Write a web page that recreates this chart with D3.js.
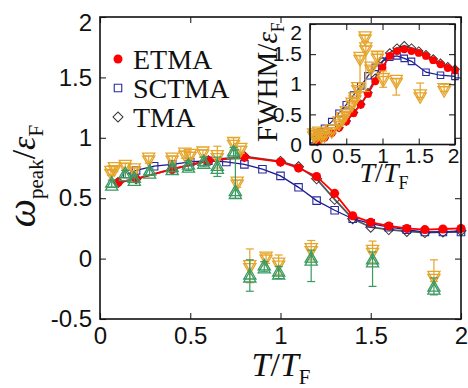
<!DOCTYPE html>
<html>
<head>
<meta charset="utf-8">
<script src="https://cdn.jsdelivr.net/npm/d3@7"></script>
<style>
  html, body { margin: 0; padding: 0; background: #fff; }
  svg { display: block; }
</style>
</head>
<body>
<div class="chart"></div>
<script>
// ---- main panel: peak position vs T/TF ----
const etmaT = [0.1, 0.2, 0.4, 0.6, 0.8, 1.0, 1.1, 1.2, 1.3, 1.4, 1.5, 1.6, 1.7, 1.8, 1.9, 2.0];
const etmaW = [0.63, 0.66, 0.74, 0.81, 0.84, 0.80, 0.75, 0.68, 0.54, 0.355, 0.30, 0.27, 0.25, 0.24, 0.245, 0.25];
const tmaW  = [0.63, 0.66, 0.74, 0.81, 0.845, 0.805, 0.76, 0.66, 0.49, 0.33, 0.26, 0.24, 0.225, 0.215, 0.22, 0.23];

const sctmaT = [0.15, 0.2, 0.3, 0.4, 0.5, 0.6, 0.7, 0.8, 0.9, 1.0, 1.1, 1.2, 1.3, 1.4, 1.5, 1.6, 1.7, 1.8, 1.9, 2.0];
const sctmaW = [0.70, 0.73, 0.765, 0.78, 0.80, 0.81, 0.80, 0.78, 0.74, 0.685, 0.59, 0.48, 0.40, 0.33, 0.29, 0.26, 0.24, 0.22, 0.22, 0.22];

// experiment (orange down triangles)
const expOT  = [0.06, 0.08, 0.14, 0.19, 0.27, 0.40, 0.47, 0.50, 0.57, 0.65, 0.74, 0.78, 0.76, 0.83, 0.92, 0.99, 1.17, 1.51, 1.85];
const expOW  = [0.71, 0.74, 0.76, 0.73, 0.82, 0.82, 0.86, 0.85, 0.87, 0.84, 0.95, 0.90, 0.62, -0.07, 0.00, -0.05, 0.07, 0.055, -0.16];
const expOLo = [0.02, 0.02, 0.03, 0.02, 0.03, 0.03, 0.03, 0.03, 0.03, 0.09, 0.05, 0.03, 0.03, 0.13, 0.04, 0.08, 0.08, 0.09, 0.03];
const expOHi = [0.02, 0.02, 0.03, 0.02, 0.03, 0.03, 0.03, 0.03, 0.03, 0.09, 0.05, 0.03, 0.03, 0.15, 0.04, 0.08, 0.08, 0.09, 0.15];

// experiment (green up triangles)
const expGT  = [0.065, 0.14, 0.19, 0.275, 0.40, 0.49, 0.575, 0.65, 0.74, 0.75, 0.83, 0.91, 0.99, 1.17, 1.51, 1.85];
const expGW  = [0.62, 0.70, 0.66, 0.72, 0.75, 0.77, 0.80, 0.76, 0.88, 0.55, -0.14, -0.065, -0.115, 0.0, -0.015, -0.24];
const expGLo = [0.03, 0.03, 0.03, 0.03, 0.03, 0.04, 0.04, 0.08, 0.04, 0.05, 0.13, 0.04, 0.05, 0.19, 0.215, 0.06];
const expGHi = [0.03, 0.03, 0.03, 0.03, 0.03, 0.04, 0.04, 0.08, 0.04, 0.35, 0.13, 0.04, 0.05, 0.07, 0.07, 0.08];

// ---- inset: FWHM vs T/TF ----
const insT   = [0.1, 0.2, 0.3, 0.4, 0.5, 0.6, 0.7, 0.8, 0.9, 1.0, 1.1, 1.2, 1.3, 1.4, 1.5, 1.6, 1.7, 1.8, 1.9, 2.0];
const etmaF  = [0.05, 0.11, 0.19, 0.28, 0.38, 0.52, 0.66, 0.84, 1.05, 1.28, 1.47, 1.55, 1.58, 1.55, 1.52, 1.47, 1.40, 1.33, 1.27, 1.23];
const tmaF   = [0.05, 0.11, 0.19, 0.28, 0.39, 0.53, 0.67, 0.86, 1.10, 1.38, 1.52, 1.60, 1.64, 1.60, 1.55, 1.49, 1.42, 1.35, 1.29, 1.25];
const sctmaFT = [0.05, 0.1, 0.15, 0.2, 0.3, 0.4, 0.5, 0.6, 0.7, 0.8, 0.9, 1.0, 1.1, 1.2, 1.3, 1.4, 1.6, 1.8, 2.0];
const sctmaF  = [0.08, 0.15, 0.21, 0.27, 0.38, 0.52, 0.66, 0.82, 0.97, 1.14, 1.28, 1.38, 1.45, 1.47, 1.43, 1.38, 1.20, 1.15, 1.13];

const expFT  = [0.05, 0.08, 0.12, 0.16, 0.2, 0.3, 0.4, 0.45, 0.5, 0.58, 0.62, 0.66, 0.69, 0.76, 0.77, 0.84, 0.93, 1.01, 1.19, 1.52, 1.85];
const expF   = [0.15, 0.12, 0.18, 0.14, 0.15, 0.22, 0.35, 0.42, 0.52, 0.66, 0.75, 0.92, 1.42, 1.76, 1.58, 1.26, 1.44, 1.07, 1.04, 0.80, 0.90];
const expFLo = [0.03, 0.03, 0.03, 0.03, 0.03, 0.03, 0.03, 0.03, 0.03, 0.03, 0.03, 0.03, 0.55, 0.05, 0.70, 0.03, 0.10, 0.12, 0.22, 0.02, 0.02];
const expFHi = [0.03, 0.03, 0.03, 0.03, 0.03, 0.03, 0.03, 0.03, 0.03, 0.03, 0.03, 0.03, 0.05, 0.05, 0.05, 0.03, 0.10, 0.15, 0.05, 0.22, 0.10];

// ticks
const xTicks = [0, 0.5, 1, 1.5, 2];
const xTickLabels = ["0", "0.5", "1", "1.5", "2"];
const yTicks = [-0.5, 0, 0.5, 1, 1.5, 2];
const yTickLabels = ["-0.5", "0", "0.5", "1", "1.5", "2"];
const yiTicks = [0, 0.5, 1, 1.5, 2];
const yiTickLabels = ["0", "0.5", "1", "1.5", "2"];

const legendNames = ["ETMA", "SCTMA", "TMA"];

const RED = "#ff0000", NAVY = "#1a1a8f", GREY = "#555555", ORANGE = "#e5a52b", GREEN = "#3a9a62";
const SANS = "'Liberation Sans', Arial, sans-serif";
const SERIF = "'Liberation Serif', 'Times New Roman', serif";

const width = 468, height = 388;

const svg = d3.select(".chart").append("svg")
    .attr("width", width)
    .attr("height", height)
    .attr("viewBox", `0 0 ${width} ${height}`);

svg.append("rect").attr("width", width).attr("height", height).attr("fill", "#fff");

const x = d3.scaleLinear().domain([0, 2]).range([100, 461]);
const y = d3.scaleLinear().domain([-0.5, 2]).range([319, 17]);

const xi = d3.scaleLinear().domain([0, 2]).range([310, 455]);
const yi = d3.scaleLinear().domain([0, 2]).range([144.5, 24]);

function drawFrame(g, xs, ys, xv, xl, yv, yl, fontSize, pad) {

    const [x0, x1] = xs.range();
    const [y0, y1] = ys.range();

    const bottom = g.append("g")
        .attr("transform", `translate(0,${y0})`)
        .call(d3.axisBottom(xs).tickValues(xv).tickFormat((d, i) => xl[i])
            .tickSizeInner(-6).tickSizeOuter(0).tickPadding(pad.x));
    const left = g.append("g")
        .attr("transform", `translate(${x0},0)`)
        .call(d3.axisLeft(ys).tickValues(yv).tickFormat((d, i) => yl[i])
            .tickSizeInner(-6).tickSizeOuter(0).tickPadding(pad.y));
    const top = g.append("g")
        .attr("transform", `translate(0,${y1})`)
        .call(d3.axisTop(xs).tickValues(xv).tickFormat("").tickSizeInner(-6).tickSizeOuter(0));
    const right = g.append("g")
        .attr("transform", `translate(${x1},0)`)
        .call(d3.axisRight(ys).tickValues(yv).tickFormat("").tickSizeInner(-6).tickSizeOuter(0));

    [bottom, left, top, right].forEach(a => {
        a.select(".domain").remove();
        a.selectAll("line").attr("stroke", "#222").attr("stroke-width", 1.1);
        a.attr("font-family", SANS).attr("font-size", fontSize);
        a.selectAll("text").attr("fill", "#111");
    });

    g.append("rect")
        .attr("x", x0).attr("y", y1)
        .attr("width", x1 - x0).attr("height", y0 - y1)
        .attr("fill", "none").attr("stroke", "#111").attr("stroke-width", 1.6);

    return { bottom, left };
}

function drawSeries(g, xs, ys, T, V, opt) {

    const pts = d3.zip(T, V);
    const line = d3.line().x(d => xs(d[0])).y(d => ys(d[1]));

    g.append("path").datum(pts)
        .attr("d", line)
        .attr("fill", "none")
        .attr("stroke", opt.line)
        .attr("stroke-width", opt.lw);

    const sym = d3.symbol().type(opt.type).size(opt.size);

    g.selectAll(null).data(pts).enter().append("path")
        .attr("d", sym)
        .attr("transform", d => `translate(${xs(d[0])},${ys(d[1])}) rotate(${opt.rot || 0})`)
        .attr("fill", opt.fill)
        .attr("stroke", opt.stroke)
        .attr("stroke-width", opt.sw);
}

function drawExp(g, xs, ys, T, V, lo, hi, color, down) {

    const pts = T.map((t, i) => ({ t: t, v: V[i], lo: lo[i], hi: hi[i] }));
    const cap = 4;

    const bars = g.append("g").attr("stroke", color).attr("stroke-width", 1.2).attr("fill", "none");
    pts.forEach(p => {
        const cx = xs(p.t), ya = ys(p.v + p.hi), yb = ys(p.v - p.lo);
        bars.append("line").attr("x1", cx).attr("x2", cx).attr("y1", ya).attr("y2", yb);
        bars.append("line").attr("x1", cx - cap).attr("x2", cx + cap).attr("y1", ya).attr("y2", ya);
        bars.append("line").attr("x1", cx - cap).attr("x2", cx + cap).attr("y1", yb).attr("y2", yb);
    });

    // doubled open triangles, offset a little, like the original markers
    const tri = d3.symbol().type(d3.symbolTriangle).size(64);
    const offs = down ? [0, -3] : [0, 3];
    offs.forEach(o => {
        g.selectAll(null).data(pts).enter().append("path")
            .attr("d", tri)
            .attr("transform", d => `translate(${xs(d.t)},${ys(d.v) + o}) rotate(${down ? 180 : 0})`)
            .attr("fill", "none")
            .attr("stroke", color)
            .attr("stroke-width", 1.3);
    });
}

// ---------- main panel ----------
const main = svg.append("g");

drawSeries(main, x, y, etmaT, tmaW, { line: GREY, lw: 1.8, type: d3.symbolSquare, size: 50, rot: 45, fill: "none", stroke: "#333", sw: 1 });
drawSeries(main, x, y, sctmaT, sctmaW, { line: NAVY, lw: 1.3, type: d3.symbolSquare, size: 56, fill: "none", stroke: "#2a2aa0", sw: 1.1 });
drawSeries(main, x, y, etmaT, etmaW, { line: RED, lw: 1.8, type: d3.symbolCircle, size: 64, fill: RED, stroke: "none", sw: 0 });

drawExp(main, x, y, expOT, expOW, expOLo, expOHi, ORANGE, true);
drawExp(main, x, y, expGT, expGW, expGLo, expGHi, GREEN, false);

const mainAx = drawFrame(main, x, y, xTicks, xTickLabels, yTicks, yTickLabels, 24, { x: 8, y: 8 });
mainAx.left.selectAll(".tick text").filter(d => d === 2).attr("dy", "0.55em");

// legend
const legend = svg.append("g").attr("font-family", SERIF).attr("font-size", 28).attr("fill", "#111");
const legY = [59, 88, 117];
legend.append("circle").attr("cx", 118).attr("cy", legY[0]).attr("r", 4.5).attr("fill", RED);
legend.append("path").attr("d", d3.symbol().type(d3.symbolSquare).size(56))
    .attr("transform", `translate(118,${legY[1]})`).attr("fill", "none").attr("stroke", "#2a2aa0").attr("stroke-width", 1.1);
legend.append("path").attr("d", d3.symbol().type(d3.symbolSquare).size(50))
    .attr("transform", `translate(118,${legY[2]}) rotate(45)`).attr("fill", "none").attr("stroke", "#333").attr("stroke-width", 1);
legendNames.forEach((n, i) => {
    legend.append("text").attr("x", 133).attr("y", legY[i] + 9.5).text(n);
});

// axis titles
svg.append("text")
    .attr("x", 281).attr("y", 376)
    .attr("text-anchor", "middle")
    .attr("font-family", SERIF).attr("font-size", 34).attr("fill", "#111")
    .call(t => {
        t.append("tspan").attr("font-style", "italic").text("T");
        t.append("tspan").text("/");
        t.append("tspan").attr("font-style", "italic").text("T");
        t.append("tspan").attr("font-size", 21).attr("dy", 8).text("F");
    });

svg.append("text")
    .attr("transform", "translate(35,176) rotate(-90)")
    .attr("text-anchor", "middle")
    .attr("font-family", SERIF).attr("font-size", 34).attr("fill", "#111")
    .call(t => {
        t.append("tspan").attr("font-style", "italic").attr("font-size", 40).text("ω");
        t.append("tspan").attr("font-size", 21).attr("dy", 8).text("peak");
        t.append("tspan").attr("dy", -8).text("/");
        t.append("tspan").attr("font-style", "italic").text("ε");
        t.append("tspan").attr("font-size", 21).attr("dy", 8).text("F");
    });

// ---------- inset ----------
const inset = svg.append("g");

inset.append("rect")
    .attr("x", xi.range()[0]).attr("y", yi.range()[1])
    .attr("width", xi.range()[1] - xi.range()[0]).attr("height", yi.range()[0] - yi.range()[1])
    .attr("fill", "#fff");

drawSeries(inset, xi, yi, insT, tmaF, { line: GREY, lw: 1.6, type: d3.symbolSquare, size: 36, rot: 45, fill: "none", stroke: "#333", sw: 1 });
drawSeries(inset, xi, yi, sctmaFT, sctmaF, { line: NAVY, lw: 1.2, type: d3.symbolSquare, size: 42, fill: "none", stroke: "#2a2aa0", sw: 1.1 });
drawSeries(inset, xi, yi, insT, etmaF, { line: RED, lw: 1.6, type: d3.symbolCircle, size: 48, fill: RED, stroke: "none", sw: 0 });

drawExp(inset, xi, yi, expFT, expF, expFLo, expFHi, ORANGE, true);

const insAx = drawFrame(inset, xi, yi, xTicks, xTickLabels, yiTicks, yiTickLabels, 21, { x: 4, y: 8 });
insAx.bottom.selectAll(".tick text").filter(d => d === 0).attr("dx", 6);
insAx.bottom.selectAll(".tick text").filter(d => d === 2).attr("dx", -2);
insAx.left.selectAll(".tick text").filter(d => d === 2).attr("dy", "0.75em");

svg.append("text")
    .attr("x", 384).attr("y", 182)
    .attr("text-anchor", "middle")
    .attr("font-family", SERIF).attr("font-size", 28).attr("fill", "#111")
    .call(t => {
        t.append("tspan").attr("font-style", "italic").text("T");
        t.append("tspan").text("/");
        t.append("tspan").attr("font-style", "italic").text("T");
        t.append("tspan").attr("font-size", 18).attr("dy", 7).text("F");
    });

svg.append("text")
    .attr("transform", "translate(277,82) rotate(-90)")
    .attr("text-anchor", "middle")
    .attr("font-family", SERIF).attr("font-size", 29).attr("fill", "#111")
    .call(t => {
        t.append("tspan").text("FWHM/");
        t.append("tspan").attr("font-style", "italic").text("ε");
        t.append("tspan").attr("font-size", 18).attr("dy", 7).text("F");
    });
</script>
</body>
</html>
